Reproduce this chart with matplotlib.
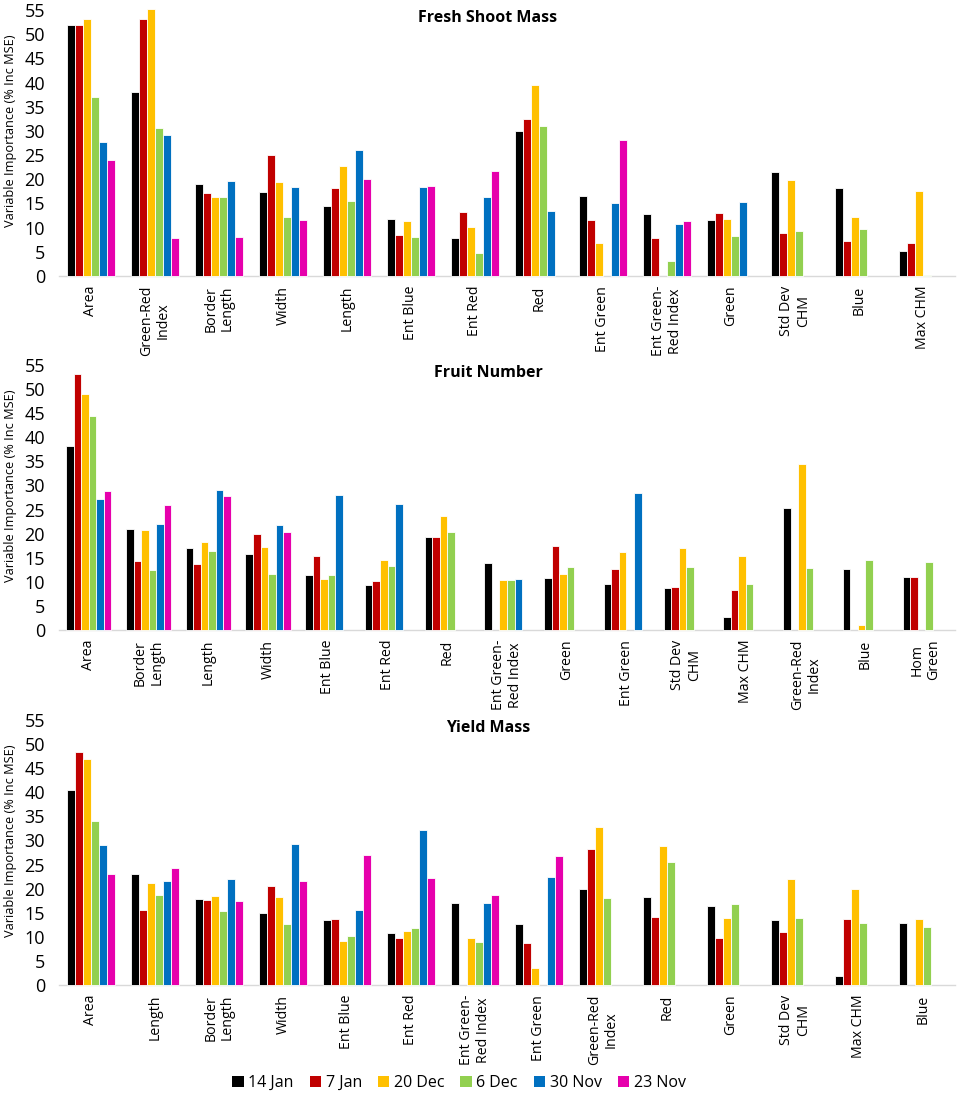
import numpy as np
import matplotlib
matplotlib.use("Agg")
import matplotlib.pyplot as plt
from matplotlib.patches import Patch

plt.rcParams['font.family'] = ['Open Sans', 'DejaVu Sans']

nan = np.nan
dates = ['14 Jan', '7 Jan', '20 Dec', '6 Dec', '30 Nov', '23 Nov']
colors = ['#000000', '#C00000', '#FFC000', '#92D050', '#0070C0', '#E600AC']

# ---- Fresh Shoot Mass ----
fsm_title = 'Fresh Shoot Mass'
fsm_categories = ['Area', 'Green-Red\nIndex', 'Border\nLength', 'Width', 'Length', 'Ent Blue',
                  'Ent Red', 'Red', 'Ent Green', 'Ent Green-\nRed Index', 'Green',
                  'Std Dev\nCHM', 'Blue', 'Max CHM']
fsm_14jan = [52.0, 38.1, 19.0, 17.4, 14.5, 11.7, 7.9, 30.0, 16.5, 12.9, 11.6, 21.6, 18.1, 5.2]
fsm_7jan = [51.8, 53.1, 17.2, 25.1, 18.1, 8.5, 13.3, 32.5, 11.6, 7.9, 13.0, 8.8, 7.3, 6.9]
fsm_20dec = [53.1, 55.3, 16.3, 19.5, 22.7, 11.4, 10.2, 39.5, 6.8, nan, 11.7, 19.8, 12.1, 17.6]
fsm_6dec = [37.0, 30.7, 16.3, 12.3, 15.6, 8.1, 4.7, 31.0, nan, 3.2, 8.3, 9.4, 9.8, 0.3]
fsm_30nov = [27.8, 29.1, 19.7, 18.5, 26.1, 18.3, 16.4, 13.4, 15.0, 10.7, 15.2, nan, nan, nan]
fsm_23nov = [23.9, 7.9, 8.1, 11.6, 20.0, 18.7, 21.8, nan, 28.2, 11.3, nan, nan, nan, nan]

# ---- Fruit Number ----
fn_title = 'Fruit Number'
fn_categories = ['Area', 'Border\nLength', 'Length', 'Width', 'Ent Blue', 'Ent Red', 'Red',
                 'Ent Green-\nRed Index', 'Green', 'Ent Green', 'Std Dev\nCHM', 'Max CHM',
                 'Green-Red\nIndex', 'Blue', 'Hom\nGreen']
fn_14jan = [38.2, 21.0, 17.0, 15.7, 11.4, 9.3, 19.3, 14.0, 10.7, 9.5, 8.8, 2.8, 25.3, 12.7, 10.9]
fn_7jan = [53.1, 14.3, 13.8, 19.9, 15.4, 10.2, 19.4, nan, 17.5, 12.7, 8.9, 8.2, nan, nan, 11.1]
fn_20dec = [48.9, 20.7, 18.3, 17.2, 10.6, 14.5, 23.6, 10.3, 11.6, 16.2, 17.1, 15.3, 34.4, 1.0, nan]
fn_6dec = [44.5, 12.5, 16.3, 11.6, 11.4, 13.2, 20.3, 10.3, 13.1, nan, 13.1, 9.5, 12.8, 14.5, 14.1]
fn_30nov = [27.2, 21.9, 29.1, 21.7, 28.0, 26.1, nan, 10.5, nan, 28.4, nan, nan, nan, nan, nan]
fn_23nov = [28.8, 26.0, 27.8, 20.4, nan, nan, nan, nan, nan, nan, nan, nan, nan, nan, nan]

# ---- Yield Mass ----
ym_title = 'Yield Mass'
ym_categories = ['Area', 'Length', 'Border\nLength', 'Width', 'Ent Blue', 'Ent Red',
                 'Ent Green-\nRed Index', 'Ent Green', 'Green-Red\nIndex', 'Red', 'Green',
                 'Std Dev\nCHM', 'Max CHM', 'Blue']
ym_14jan = [40.5, 23.0, 17.9, 14.9, 13.4, 10.7, 17.0, 12.7, 19.9, 18.2, 16.3, 13.5, 1.9, 12.9]
ym_7jan = [48.4, 15.6, 17.6, 20.5, 13.6, 9.7, nan, 8.7, 28.2, 14.2, 9.7, 11.1, 13.8, nan]
ym_20dec = [46.9, 21.1, 18.4, 18.2, 9.1, 11.2, 9.7, 3.5, 32.8, 28.9, 14.0, 22.1, 19.9, 13.7]
ym_6dec = [34.0, 18.6, 15.4, 12.7, 10.1, 11.9, 8.9, nan, 18.1, 25.5, 16.8, 13.9, 12.8, 12.0]
ym_30nov = [29.1, 21.5, 21.9, 29.3, 15.6, 32.1, 17.0, 22.4, nan, nan, nan, nan, nan, nan]
ym_23nov = [23.0, 24.3, 17.4, 21.6, 26.9, 22.3, 18.7, 26.8, nan, nan, nan, nan, nan, nan]

yticks = [0, 5, 10, 15, 20, 25, 30, 35, 40, 45, 50, 55]
ylabel = 'Variable Importance (% Inc MSE)'

panels = [
    (fsm_title, fsm_categories, [fsm_14jan, fsm_7jan, fsm_20dec, fsm_6dec, fsm_30nov, fsm_23nov]),
    (fn_title, fn_categories, [fn_14jan, fn_7jan, fn_20dec, fn_6dec, fn_30nov, fn_23nov]),
    (ym_title, ym_categories, [ym_14jan, ym_7jan, ym_20dec, ym_6dec, ym_30nov, ym_23nov]),
]

W, H = 957, 1095
fig = plt.figure(figsize=(W / 100, H / 100), dpi=100)

# (bottom_px, top_px) of each axes, from the top of the image
ax_px = [(276, 10), (630, 365), (985, 720)]
left_px, right_px = 59, 955
title_y_px = [18, 373, 728]

bw = 0.126
for (title, cats, series), (b, t), ty in zip(panels, ax_px, title_y_px):
    ax = fig.add_axes([left_px / W, 1 - b / H, (right_px - left_px) / W, (b - t) / H])
    x = np.arange(len(cats))
    for i, (vals, c) in enumerate(zip(series, colors)):
        ax.bar(x + (i - 2.5) * bw, vals, width=bw, color=c, edgecolor='white',
               linewidth=0.6, clip_on=False, zorder=3)
    ax.set_xlim(-0.5, len(cats) - 0.5)
    ax.set_ylim(0, 55)
    ax.set_yticks(yticks)
    ax.tick_params(axis='y', length=0, pad=10, labelsize=13)
    ax.tick_params(axis='x', length=0, pad=7)
    ax.set_xticks(x)
    ax.set_xticklabels(cats, rotation=90, ha='center', va='top', multialignment='center',
                       fontsize=10.2, linespacing=1.15)
    for s in ['left', 'right', 'top']:
        ax.spines[s].set_visible(False)
    ax.spines['bottom'].set_color('#D9D9D9')
    ax.spines['bottom'].set_linewidth(1.0)
    ax.set_ylabel(ylabel, fontsize=9.2)
    ax.yaxis.set_label_coords(-(left_px - 17) / (right_px - left_px), 0.545)
    fig.text(488 / W, 1 - ty / H, title, ha='center', va='center', fontsize=11.5,
             fontweight='bold')

handles = [Patch(facecolor=c, edgecolor='none') for c in colors]
fig.legend(handles, dates, loc='center', bbox_to_anchor=(459 / W, 1 - 1083 / H), ncol=6,
           frameon=False, fontsize=11.5, handlelength=0.7, handleheight=0.7,
           handletextpad=0.3, columnspacing=1.0)

fig.savefig('out.png', dpi=100)
